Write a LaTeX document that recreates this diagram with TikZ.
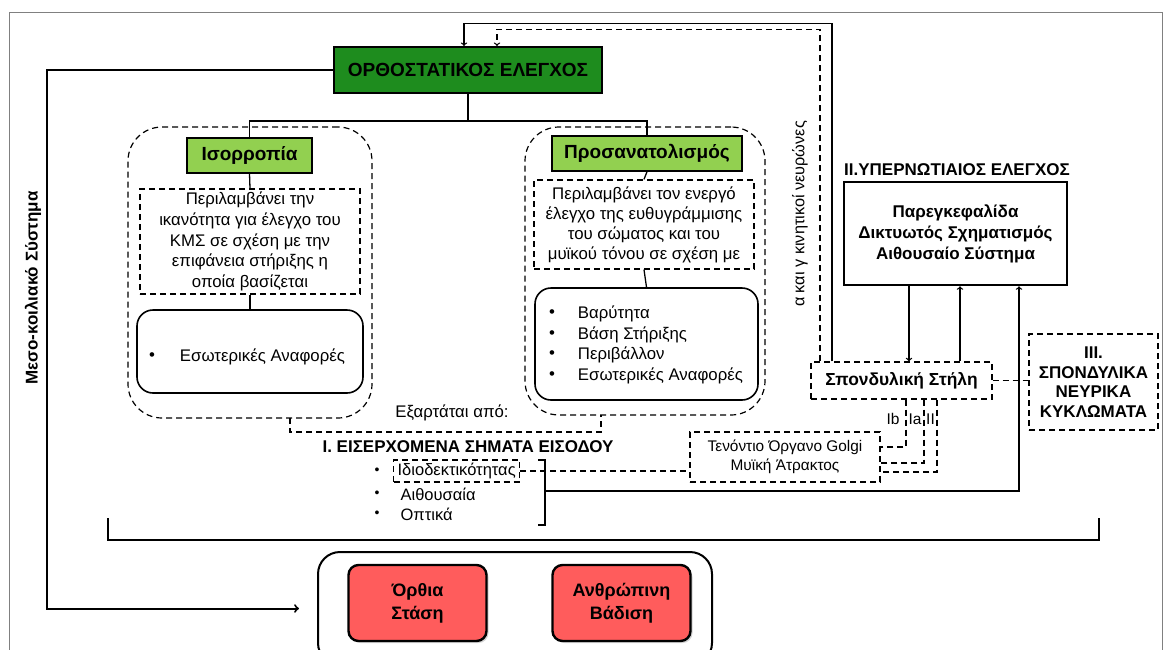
\documentclass[tikz,border=0pt]{standalone}
\usepackage{fontspec}
\setmainfont{Liberation Sans}
\usetikzlibrary{calc,shadows}

\definecolor{ortgreen}{RGB}{30,140,30}
\definecolor{subgreen}{RGB}{146,208,80}
\definecolor{resred}{RGB}{255,92,92}

\begin{document}
\begin{tikzpicture}[x=1pt, y=-1pt, >=to, line width=1.3pt,
  txt/.style={font=\fontsize{16.8}{20.8}\selectfont},
  bigtxt/.style={font=\fontsize{16.8}{20}\selectfont},
  bold/.style={font=\fontsize{17}{21}\selectfont\bfseries},
  dashln/.style={dash pattern=on 6pt off 4pt},
  dashbox/.style={draw, dashln, inner sep=0pt, align=center},
  roundbox/.style={draw, rounded corners=16pt, line width=1.6pt, inner sep=0pt},
  outerbox/.style={draw, dashln, rounded corners=34pt, line width=1.2pt, inner sep=0pt},
  subhead/.style={draw, fill=subgreen, line width=1.4pt, inner sep=0pt,
    font=\fontsize{19}{22}\selectfont\bfseries},
  result/.style={draw, fill=resred, rounded corners=10pt, line width=2.4pt, inner sep=0pt,
    align=center, minimum width=138pt, minimum height=76pt,
    drop shadow={shadow xshift=2pt, shadow yshift=-2pt, opacity=.35},
    font=\fontsize{18}{23}\selectfont\bfseries}]

  \useasboundingbox (0,0) rectangle (1165,649);
  \draw[gray, line width=1pt] (9,12) rectangle (1162,700);

  % main control box
  \node[draw, line width=2pt, fill=ortgreen, inner sep=0pt, minimum width=268pt, minimum height=46pt,
        font=\fontsize{19}{22}\selectfont\bfseries] (ortho) at (468,70) {ΟΡΘΟΣΤΑΤΙΚΟΣ ΕΛΕΓΧΟΣ};

  % balance column
  \node[outerbox, minimum width=244pt, minimum height=291pt] (balcont) at (250,272.5) {};
  \node[subhead, minimum width=125pt, minimum height=35pt] (isor) at (249.5,155.5) {Ισορροπία};
  \node[dashbox, txt, minimum width=220pt, minimum height=105pt] (isordesc) at (250,241.5)
       {Περιλαμβάνει την\\ικανότητα για έλεγχο του\\ΚΜΣ σε σχέση με την\\επιφάνεια στήριξης η\\οποία βασίζεται};
  \node[roundbox, minimum width=226pt, minimum height=83pt] (isorlist) at (250,351.5) {};
  \node[bigtxt] (isorb) at (152,357) {•};
  \node[bigtxt, anchor=west] (isorit) at (176,357) {Εσωτερικές Αναφορές};
  \draw (isor.south) -- (isordesc.north);
  \draw (isordesc.south) -- (isorlist.north);

  % orientation column
  \node[outerbox, minimum width=240pt, minimum height=288pt] (oricont) at (645,271) {};
  \node[subhead, minimum width=190pt, minimum height=35pt] (orient) at (647,153.5) {Προσανατολισμός};
  \node[dashbox, bigtxt, minimum width=220pt, minimum height=89pt] (oridesc) at (644,224.5)
       {Περιλαμβάνει τον ενεργό\\έλεγχο της ευθυγράμμισης\\του σώματος και του\\μυϊκού τόνου σε σχέση με};
  \node[roundbox, minimum width=223pt, minimum height=112pt] (orilist) at (646.5,344) {};
  \foreach \t [count=\i] in {Βαρύτητα, Βάση Στήριξης, Περιβάλλον, Εσωτερικές Αναφορές} {
    \node[bigtxt] (orib-\i) at (552,{314+(\i-1)*20.5}) {•};
    \node[bigtxt, anchor=west] (orit-\i) at (574,{314+(\i-1)*20.5}) {\t};
  }
  \draw (orient.south) -- (oridesc.north);
  \draw (oridesc.south) -- (orilist.north);

  % branch from the main box
  \draw[line width=1.8pt] (ortho.south) -- ++(0,27) coordinate (split);
  \draw[line width=1.8pt] (isor.north) |- (split) -| (orient.north);

  % depends on
  \node[bigtxt] (dep) at (452,413) {Εξαρτάται από:};
  \coordinate (depl) at (290,418);
  \coordinate (depr) at (601,415);
  \draw[dashln] (depl) -- ++(0,14) -| (depr);

  % incoming inputs
  \node[bold] (inp) at (468,447) {Ι. ΕΙΣΕΡΧΟΜΕΝΑ ΣΗΜΑΤΑ ΕΙΣΟΔΟΥ};
  \node[dashbox, anchor=west, inner xsep=4pt, minimum height=22pt,
        font=\fontsize{16.5}{18}\selectfont] (prop) at (393,471) {Ιδιοδεκτικότητας};
  \node[anchor=west, inner sep=0pt, font=\fontsize{16.5}{18}\selectfont] (vest) at (400,494) {Αιθουσαία};
  \node[anchor=west, inner sep=0pt, font=\fontsize{16.5}{18}\selectfont] (vis) at (400,514) {Οπτικά};
  \foreach \y [count=\i] in {471,494,514}
    \node[font=\fontsize{14}{16}\selectfont] (inb-\i) at (377,\y) {•};
  \coordinate (brace) at (545,491);
  \draw (538,460) -| (545,525) -- (538,525);

  % supraspinal control
  \node[bold] (suprt) at (957,170) {ΙΙ.ΥΠΕΡΝΩΤΙΑΙΟΣ ΕΛΕΓΧΟΣ};
  \node[draw, line width=2.5pt, minimum width=223pt, minimum height=103pt, align=center,
        bold, inner sep=0pt] (supr) at (955.5,233.5)
       {Παρεγκεφαλίδα\\Δικτυωτός Σχηματισμός\\Αιθουσαίο Σύστημα};

  % spinal column and circuits
  \node[dashbox, bold, font=\fontsize{17.4}{19}\selectfont\bfseries, minimum width=181pt, minimum height=37pt]
       (spine) at (901.5,380.5) {Σπονδυλική Στήλη};
  \node[dashbox, font=\fontsize{17}{19.5}\selectfont\bfseries, minimum width=129pt, minimum height=96pt]
       (spcirc) at (1093.5,382) {ΙΙΙ.\\ΣΠΟΝΔΥΛΙΚΑ\\ΝΕΥΡΙΚΑ\\ΚΥΚΛΩΜΑΤΑ};
  \draw[dashln] (spine.east) -- (spine.east -| spcirc.west);

  \node[dashbox, font=\fontsize{15.4}{19.5}\selectfont, minimum width=190pt, minimum height=50pt] (golgi) at (785,457)
       {Τενόντιο Όργανο Golgi\\Μυϊκή Άτρακτος};
  \draw[dashln] (prop.east) -- (prop.east -| golgi.west);

  % afferent fibres
  \draw[dashln] ([xshift=4.5]spine.south) |- ([yshift=10]golgi.east);
  \draw[dashln] ([xshift=22.5]spine.south) |- ([yshift=-6]golgi.east);
  \draw[dashln] ([xshift=35.5]spine.south) |- ([yshift=-15]golgi.east);
  \node[font=\fontsize{15.5}{16}\selectfont, inner sep=0pt] (ib) at (893,419) {Ib};
  \node[font=\fontsize{15.5}{16}\selectfont, inner sep=0pt] (ia) at (915,419) {Ia};
  \node[font=\fontsize{15.5}{16}\selectfont, inner sep=0pt] (iitxt) at (930.5,419) {II};

  % links to supraspinal box
  \draw[->] ([xshift=-46.5]supr.south) -- ([xshift=-46.5]supr.south |- spine.north);
  \draw[->] ([xshift=58.5]spine.north) -- ([xshift=58.5]spine.north |- supr.south);
  \draw[->] (brace) -| ([xshift=63.5]supr.south);

  % feedback to the main box
  \draw[->] ([xshift=-69.5]spine.north) -- ++(0,-338) -| ([xshift=-4]ortho.north);
  \draw[->, dashln] ([xshift=-81.5]spine.north) -- ++(0,-332) -| ([xshift=29]ortho.north);
  \node[rotate=90, font=\fontsize{16.3}{18}\selectfont] (motor) at (800,214) {α και γ κινητικοί νευρώνες};

  % bottom bracket
  \coordinate (brl) at (108,518);
  \coordinate (brr) at (1099,518);
  \draw[line width=2.5pt] (brl) -- ++(0,22) -| (brr);

  % outcomes
  \node[draw, rounded corners=22pt, line width=2pt, minimum width=394pt, minimum height=113pt] (outc) at (515,608.5) {};
  \node[result] (upright) at (417.5,603) {Όρθια\\Στάση};
  \node[result] (walk) at (621.5,603) {Ανθρώπινη\\Βάδιση};

  % meso-ventral pathway
  \draw[->, line width=2pt] (ortho.west) -- ++(-286,0) |- ([xshift=-18]outc.west);
  \node[bold, rotate=90] (meso) at (33,288) {Μεσο-κοιλιακό Σύστημα};
\end{tikzpicture}
\end{document}
